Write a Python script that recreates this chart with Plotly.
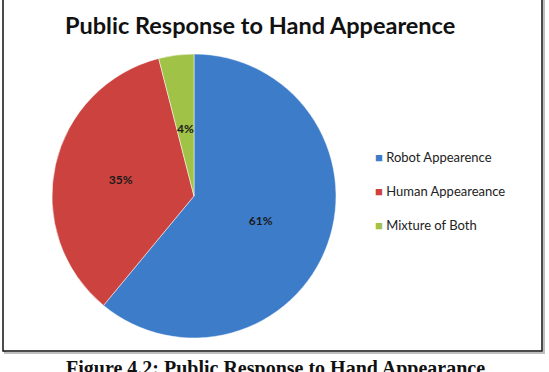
import math
import plotly.graph_objects as go

labels = ["Robot Appearence", "Human Appeareance", "Mixture of Both"]
values = [61, 35, 4]
colors = ["#3D7CC9", "#CC423E", "#A0C247"]

W, H = 549, 372
CX, CY, R = 194, 196, 142  # pie centre / radius in pixels (layout only)

total = sum(values)
pct = [round(100 * v / total) for v in values]
# the smallest slice gets its label placed like the original (inside, mid-radius)
small = values.index(min(values))
start = sum(values[:small]) / total
mid_angle = (start + values[small] / total / 2) * 2 * math.pi
lx = CX + 0.48 * R * math.sin(mid_angle)
ly = CY - 0.48 * R * math.cos(mid_angle)

texts = [f"<b>{p}%</b>" if i != small else "" for i, p in enumerate(pct)]

fig = go.Figure()
fig.add_trace(go.Pie(
    labels=labels, values=values, sort=False, direction="clockwise", rotation=0,
    marker=dict(colors=colors, line=dict(color="rgba(255,255,255,0.5)", width=1)),
    text=texts, textinfo="text",
    textposition="inside", insidetextorientation="horizontal",
    textfont=dict(family="Lato", size=12, color="#1a1a1a"),
    showlegend=False,
    domain=dict(x=[(CX - R - 1) / W, (CX + R + 1) / W], y=[(H - CY - R) / H, (H - CY + R) / H]),
))
for i, (lab, col) in enumerate(zip(labels, colors)):
    fig.add_trace(go.Scatter(
        x=[None], y=[None], mode="markers", legendgroup=f"g{i}",
        name=f"<span style='color:{col}'>■</span> {lab}",
        marker=dict(symbol="square", size=1, color="rgba(0,0,0,0)"),
    ))

fig.update_layout(
    width=W, height=H, margin=dict(l=0, r=0, t=0, b=0),
    paper_bgcolor="white", plot_bgcolor="white",
    xaxis=dict(visible=False), yaxis=dict(visible=False),
    legend=dict(x=335 / W, y=1 - 142 / H, xanchor="left", yanchor="top",
                font=dict(family="Lato", size=13, color="#222"),
                tracegroupgap=14, itemwidth=30, bgcolor="rgba(0,0,0,0)"),
    shapes=[
        dict(type="rect", xref="paper", yref="paper", x0=5 / W, x1=544 / W, y0=(H - 353) / H, y1=1.05,
             line=dict(color="rgba(0,0,0,0.25)", width=2), layer="below"),
        dict(type="rect", xref="paper", yref="paper", x0=3 / W, x1=542 / W, y0=(H - 351) / H, y1=1.05,
             line=dict(color="#111", width=1.5), fillcolor="white", layer="below"),
    ],
    annotations=[
        dict(text=f"<b>{pct[small]}%</b>", x=lx / W, y=1 - ly / H, xref="paper", yref="paper",
             showarrow=False, xanchor="center", yanchor="middle",
             font=dict(family="Lato", size=12, color="#1a1a1a")),
        dict(text="<b>Public Response to Hand Appearence</b>", x=260 / W, y=1 - 25 / H,
             xref="paper", yref="paper", showarrow=False, xanchor="center", yanchor="middle",
             font=dict(family="Lato", size=23.5, color="#111")),
        dict(text="<b>Figure 4.2: Public Response to Hand Appearance</b>", x=275 / W, y=1 - 355 / H,
             xref="paper", yref="paper", showarrow=False, xanchor="center", yanchor="top",
             font=dict(family="Liberation Serif", size=20, color="#111")),
    ],
)
fig.write_html("out.html")
